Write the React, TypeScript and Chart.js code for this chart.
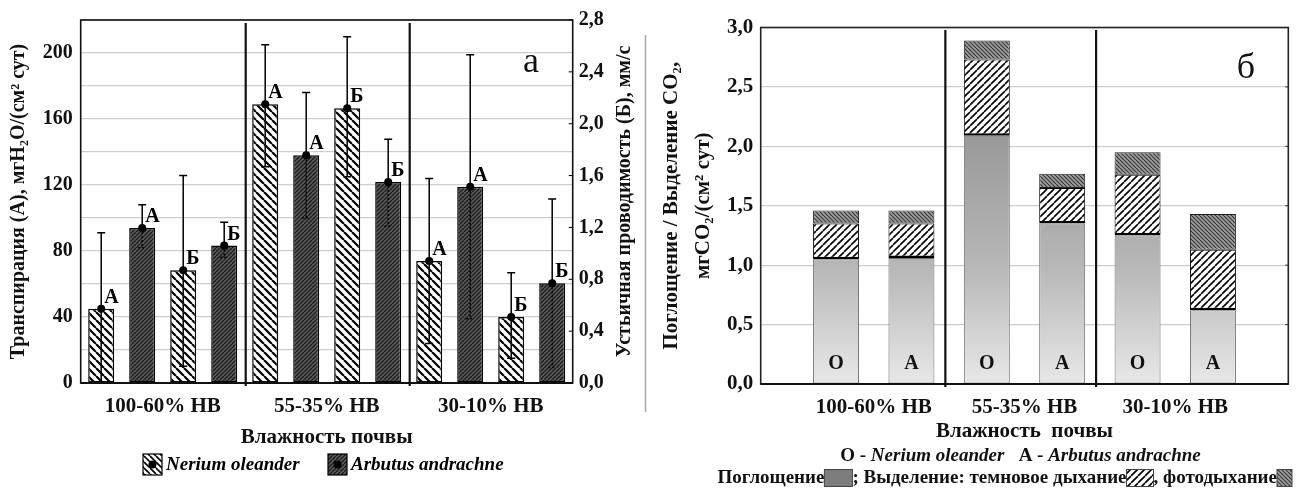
import React, { useEffect, useRef } from 'react';
import { Chart, registerables } from 'chart.js';

Chart.register(...registerables);

const FONT = "'Liberation Serif', 'Times New Roman', 'DejaVu Serif', serif";

// ---------- Panel а: transpiration (left axis) and stomatal conductance (right axis) ----------
const moistureLevels = ['100-60% НВ', '55-35% НВ', '30-10% НВ'];

const neriumTranspiration = [45, 169, 74];
const neriumTranspirationLow = [0, 131, 24];
const neriumTranspirationHigh = [91, 205, 124];

const arbutusTranspiration = [94, 138, 119];
const arbutusTranspirationLow = [82, 100, 39];
const arbutusTranspirationHigh = [108, 176, 199];

const neriumConductance = [0.87, 2.12, 0.51];
const neriumConductanceLow = [0.13, 1.59, 0.19];
const neriumConductanceHigh = [1.6, 2.67, 0.85];

const arbutusConductance = [1.06, 1.55, 0.77];
const arbutusConductanceLow = [0.97, 1.21, 0.12];
const arbutusConductanceHigh = [1.24, 1.88, 1.42];

const transpirationTickLabels = ['0', '40', '80', '120', '160', '200'];
const conductanceTickLabels = ['0,0', '0,4', '0,8', '1,2', '1,6', '2,0', '2,4', '2,8'];

// ---------- Panel б: CO2 uptake and release ----------
const speciesCodes = ['O', 'A', 'O', 'A', 'O', 'A'];
const uptake = [1.05, 1.06, 2.09, 1.35, 1.25, 0.62];
const darkRespiration = [0.3, 0.29, 0.64, 0.3, 0.51, 0.51];
const photorespiration = [0.11, 0.11, 0.16, 0.12, 0.19, 0.3];
const uptakeTickLabels = ['0,0', '0,5', '1,0', '1,5', '2,0', '2,5', '3,0'];

function makePattern(target: CanvasRenderingContext2D, bg: string, fg: string, size: number, lw: number, dir: 'fwd' | 'back') {
  const c = document.createElement('canvas');
  c.width = size;
  c.height = size;
  const g = c.getContext('2d')!;
  g.fillStyle = bg;
  g.fillRect(0, 0, size, size);
  g.strokeStyle = fg;
  g.lineWidth = lw;
  g.beginPath();
  for (let k = -1; k <= 1; k++) {
    if (dir === 'fwd') {
      g.moveTo(k * size, size);
      g.lineTo(k * size + size, 0);
    } else {
      g.moveTo(k * size, 0);
      g.lineTo(k * size + size, size);
    }
  }
  g.stroke();
  return target.createPattern(c, 'repeat')!;
}

export default function App() {
  const leftRef = useRef<HTMLCanvasElement>(null);
  const rightRef = useRef<HTMLCanvasElement>(null);

  useEffect(() => {
    const lc = leftRef.current!;
    const rc = rightRef.current!;
    const lctx = lc.getContext('2d')!;
    const rctx = rc.getContext('2d')!;

    const pNerium = makePattern(lctx, '#ffffff', '#000000', 8, 2.2, 'back');
    const pArbutus = makePattern(lctx, '#5c5c5c', '#1c1c1c', 4, 1.4, 'fwd');
    const pNeriumL = makePattern(lctx, '#ffffff', '#000000', 6, 1.6, 'back');
    const pDark = makePattern(rctx, '#ffffff', '#000000', 7, 1.6, 'fwd');
    const pPhoto = makePattern(rctx, '#9c9c9c', '#3a3a3a', 4, 1.2, 'back');

    const leftDecor = {
      id: 'leftDecor',
      afterDatasetsDraw(chart: any) {
        const ctx = chart.ctx as CanvasRenderingContext2D;
        chart.data.datasets.forEach((ds: any, d: number) => {
          const meta = chart.getDatasetMeta(d);
          const sc = chart.scales[ds.yAxisID];
          meta.data.forEach((bar: any, i: number) => {
            const x = bar.x;
            const yv = sc.getPixelForValue(ds.data[i]);
            const yl = sc.getPixelForValue(ds.errLow[i]);
            const yh = sc.getPixelForValue(ds.errHigh[i]);
            ctx.save();
            ctx.strokeStyle = '#000';
            ctx.lineWidth = 1.5;
            ctx.beginPath();
            ctx.moveTo(x, yh);
            ctx.lineTo(x, yv);
            ctx.moveTo(x - 4, yh);
            ctx.lineTo(x + 4, yh);
            ctx.stroke();
            if (ds.darkFill) ctx.setLineDash([2, 2]);
            ctx.beginPath();
            ctx.moveTo(x, yv);
            ctx.lineTo(x, yl);
            ctx.moveTo(x - 4, yl);
            ctx.lineTo(x + 4, yl);
            ctx.stroke();
            ctx.setLineDash([]);
            ctx.fillStyle = '#000';
            ctx.beginPath();
            ctx.arc(x, yv, 4, 0, Math.PI * 2);
            ctx.fill();
            ctx.font = `bold 20px ${FONT}`;
            ctx.textAlign = 'left';
            ctx.textBaseline = 'alphabetic';
            ctx.fillText(ds.letter, x + 3, yv - 6);
            ctx.restore();
          });
        });
      },
      afterDraw(chart: any) {
        const ctx = chart.ctx as CanvasRenderingContext2D;
        const a = chart.chartArea;
        const xs = chart.scales.x;
        const y1 = chart.scales.y1;
        ctx.save();
        ctx.strokeStyle = '#000';
        ctx.lineWidth = 1;
        y1.ticks.forEach((t: any) => {
          const yy = y1.getPixelForValue(t.value);
          ctx.beginPath();
          ctx.moveTo(a.right - 4, yy);
          ctx.lineTo(a.right, yy);
          ctx.stroke();
        });
        ctx.strokeStyle = '#111';
        ctx.lineWidth = 1.6;
        ctx.strokeRect(a.left, a.top, a.right - a.left, a.bottom - a.top);
        ctx.lineWidth = 2.2;
        ctx.beginPath();
        ctx.moveTo(a.left, a.bottom);
        ctx.lineTo(a.right, a.bottom);
        ctx.stroke();
        ctx.lineWidth = 2.2;
        for (let i = 0; i < moistureLevels.length - 1; i++) {
          const sx = (xs.getPixelForTick(i) + xs.getPixelForTick(i + 1)) / 2 + 1;
          ctx.beginPath();
          ctx.moveTo(sx, a.top + 3);
          ctx.lineTo(sx, a.bottom + 3);
          ctx.stroke();
        }
        ctx.fillStyle = '#111';
        ctx.font = `36px ${FONT}`;
        ctx.textAlign = 'center';
        ctx.textBaseline = 'alphabetic';
        ctx.fillText('а', 531, 72);
        ctx.save();
        ctx.translate(625, (a.top + a.bottom) / 2);
        ctx.rotate(-Math.PI / 2);
        ctx.font = `bold 20px ${FONT}`;
        ctx.textBaseline = 'middle';
        ctx.fillText('Устьичная проводимость (Б), мм/с', 0, 0);
        ctx.restore();
        ctx.strokeStyle = '#a8a8a8';
        ctx.lineWidth = 1.5;
        ctx.beginPath();
        ctx.moveTo(645.5, 35);
        ctx.lineTo(645.5, 412);
        ctx.stroke();
        const items = [
          { fill: pNeriumL, text: 'Nerium oleander', x: 143 },
          { fill: pArbutus, text: 'Arbutus andrachne', x: 328 },
        ];
        items.forEach((it) => {
          ctx.fillStyle = it.fill as any;
          ctx.fillRect(it.x, 454, 19, 21);
          ctx.strokeStyle = '#000';
          ctx.lineWidth = 1.2;
          ctx.strokeRect(it.x, 454, 19, 21);
          ctx.fillStyle = '#000';
          ctx.beginPath();
          ctx.arc(it.x + 9.5, 464.5, 4, 0, Math.PI * 2);
          ctx.fill();
          ctx.font = `italic bold 19px ${FONT}`;
          ctx.textAlign = 'left';
          ctx.textBaseline = 'middle';
          ctx.fillText(it.text, it.x + 23, 465);
        });
        ctx.restore();
      },
    };

    const left = new Chart(lc, {
      type: 'bar',
      data: {
        labels: moistureLevels,
        datasets: [
          { label: 'Nerium oleander', data: neriumTranspiration, errLow: neriumTranspirationLow, errHigh: neriumTranspirationHigh, letter: 'А', yAxisID: 'y', backgroundColor: pNerium, darkFill: false } as any,
          { label: 'Arbutus andrachne', data: arbutusTranspiration, errLow: arbutusTranspirationLow, errHigh: arbutusTranspirationHigh, letter: 'А', yAxisID: 'y', backgroundColor: pArbutus, darkFill: true } as any,
          { label: 'Nerium oleander', data: neriumConductance, errLow: neriumConductanceLow, errHigh: neriumConductanceHigh, letter: 'Б', yAxisID: 'y1', backgroundColor: pNerium, darkFill: false } as any,
          { label: 'Arbutus andrachne', data: arbutusConductance, errLow: arbutusConductanceLow, errHigh: arbutusConductanceHigh, letter: 'Б', yAxisID: 'y1', backgroundColor: pArbutus, darkFill: true } as any,
        ].map((d) => ({ ...d, borderColor: '#000', borderWidth: 1.5, borderSkipped: false, categoryPercentage: 1, barPercentage: 0.634 })),
      },
      options: {
        responsive: false,
        animation: false,
        devicePixelRatio: 1,
        layout: { padding: { top: 17.5, left: 0, right: 0, bottom: 0 } },
        plugins: { legend: { display: false }, tooltip: { enabled: false } },
        scales: {
          x: {
            grid: { display: false },
            border: { display: false },
            ticks: { color: '#111', font: { family: FONT, size: 21, weight: 'bold' }, padding: 3, maxRotation: 0 },
            title: { display: true, text: 'Влажность почвы', color: '#111', font: { family: FONT, size: 21, weight: 'bold' }, padding: { top: 0, bottom: 39 } },
            afterFit: (s: any) => { s.height = 106; },
          },
          y: {
            position: 'left',
            min: 0,
            max: 220,
            grid: { color: '#cdcdcd', lineWidth: 1.2, drawTicks: false },
            border: { display: false },
            ticks: {
              stepSize: 20,
              color: '#111',
              font: { family: FONT, size: 20, weight: 'bold' },
              padding: 8,
              callback: (v: any) => (v % 40 === 0 ? transpirationTickLabels[v / 40] ?? '' : ''),
            },
            title: { display: true, text: 'Транспирация (А), мгН₂О/(см² сут)', color: '#111', font: { family: FONT, size: 20, weight: 'bold' }, padding: { top: 7, bottom: 0 } },
            afterFit: (s: any) => { s.width = 80.7; },
          },
          y1: {
            position: 'right',
            min: 0,
            max: 2.8,
            grid: { drawOnChartArea: false, drawTicks: false },
            border: { display: false },
            ticks: {
              stepSize: 0.2,
              color: '#111',
              font: { family: FONT, size: 20, weight: 'bold' },
              padding: 6,
              callback: (v: any, i: number) => (i % 2 === 0 ? conductanceTickLabels[i / 2] ?? '' : ''),
            },
            afterFit: (s: any) => { s.width = 75.3; },
          },
        },
      } as any,
      plugins: [leftDecor],
    });

    const rightDecor = {
      id: 'rightDecor',
      afterDatasetsDraw(chart: any) {
        const ctx = chart.ctx as CanvasRenderingContext2D;
        const meta = chart.getDatasetMeta(0);
        ctx.save();
        ctx.fillStyle = '#111';
        ctx.font = `bold 20px ${FONT}`;
        ctx.textAlign = 'center';
        ctx.textBaseline = 'middle';
        meta.data.forEach((bar: any, i: number) => {
          ctx.fillText(speciesCodes[i], bar.x, 364);
        });
        ctx.restore();
      },
      afterDraw(chart: any) {
        const ctx = chart.ctx as CanvasRenderingContext2D;
        const a = chart.chartArea;
        const xs = chart.scales.x;
        const ys = chart.scales.y;
        ctx.save();
        ctx.strokeStyle = '#333';
        ctx.lineWidth = 1;
        ys.ticks.forEach((t: any) => {
          const yy = ys.getPixelForValue(t.value);
          ctx.beginPath();
          ctx.moveTo(a.right - 3, yy);
          ctx.lineTo(a.right, yy);
          ctx.stroke();
        });
        ctx.strokeStyle = '#222';
        ctx.lineWidth = 1.6;
        ctx.strokeRect(a.left, a.top, a.right - a.left, a.bottom - a.top);
        ctx.strokeStyle = '#111';
        ctx.lineWidth = 2.2;
        ctx.beginPath();
        ctx.moveTo(a.left, a.bottom);
        ctx.lineTo(a.right, a.bottom);
        ctx.stroke();
        [2.45, 4.45].forEach((v) => {
          const sx = xs.getPixelForValue(v);
          ctx.beginPath();
          ctx.moveTo(sx, a.top + 2.5);
          ctx.lineTo(sx, a.bottom + 3);
          ctx.stroke();
        });
        ctx.fillStyle = '#111';
        ctx.font = `36px ${FONT}`;
        ctx.textAlign = 'center';
        ctx.textBaseline = 'alphabetic';
        ctx.fillText('б', 598, 78);

        const parts = [
          { t: 'O - ', f: `bold 19px ${FONT}` },
          { t: 'Nerium oleander', f: `italic bold 19px ${FONT}` },
          { t: '   A - ', f: `bold 19px ${FONT}` },
          { t: 'Arbutus andrachne', f: `italic bold 19px ${FONT}` },
        ];
        let total = 0;
        parts.forEach((p) => { ctx.font = p.f; total += ctx.measureText(p.t).width; });
        let cx = 372.5 - total / 2;
        ctx.textAlign = 'left';
        ctx.textBaseline = 'middle';
        parts.forEach((p) => {
          ctx.font = p.f;
          ctx.fillText(p.t, cx, 456);
          cx += ctx.measureText(p.t).width;
        });

        const lf = `bold 19px ${FONT}`;
        ctx.font = lf;
        let lx = 69.5;
        const ly = 478;
        const seq: any[] = [
          { t: 'Поглощение' },
          { box: '#7d7d7d', w: 28 },
          { t: '; Выделение: темновое дыхание' },
          { box: pDark, w: 27 },
          { t: ', фотодыхание' },
          { box: pPhoto, w: 15 },
        ];
        seq.forEach((s) => {
          if (s.t) {
            ctx.fillStyle = '#111';
            ctx.font = lf;
            ctx.fillText(s.t, lx, ly);
            lx += ctx.measureText(s.t).width;
          } else {
            ctx.fillStyle = s.box;
            ctx.fillRect(lx, ly - 8.5, s.w, 17);
            ctx.strokeStyle = '#444';
            ctx.lineWidth = 1;
            ctx.strokeRect(lx, ly - 8.5, s.w, 17);
            lx += s.w;
          }
        });
        ctx.restore();
      },
    };

    const uptakeFill = (c: any) => {
      const chart = c.chart;
      const ys = chart.scales.y;
      if (!chart.chartArea || !ys) return '#c0c0c0';
      const g = chart.ctx.createLinearGradient(0, ys.getPixelForValue(0), 0, ys.getPixelForValue(2.1));
      g.addColorStop(0, '#e8e8e8');
      g.addColorStop(0.48, '#b6b6b6');
      g.addColorStop(1, '#999999');
      return g;
    };

    const right = new Chart(rc, {
      type: 'bar',
      data: {
        datasets: [
          { label: 'Поглощение', data: uptake.map((v, i) => ({ x: i + 1, y: v })), backgroundColor: uptakeFill, borderColor: '#6e6e6e', borderWidth: 1, borderSkipped: false },
          { label: 'темновое дыхание', data: darkRespiration.map((v, i) => ({ x: i + 1, y: v })), backgroundColor: pDark, borderColor: '#000', borderWidth: { top: 1, left: 1, right: 1, bottom: 2.5 }, borderSkipped: false },
          { label: 'фотодыхание', data: photorespiration.map((v, i) => ({ x: i + 1, y: v })), backgroundColor: pPhoto, borderColor: '#222', borderWidth: 1, borderSkipped: false },
        ].map((d) => ({ ...d, categoryPercentage: 1, barPercentage: 0.61 })) as any,
      },
      options: {
        responsive: false,
        animation: false,
        devicePixelRatio: 1,
        layout: { padding: { top: 27.5, left: 0, right: 7.7, bottom: 0 } },
        plugins: { legend: { display: false }, tooltip: { enabled: false } },
        scales: {
          x: {
            type: 'linear',
            min: 0,
            max: 7,
            offset: false,
            stacked: true,
            grid: { display: false, offset: false },
            border: { display: false },
            afterBuildTicks: (s: any) => { s.ticks = moistureLevels.map((_, i) => ({ value: 2 * i + 1.5 })); },
            ticks: { autoSkip: false, maxRotation: 0, color: '#111', font: { family: FONT, size: 21, weight: 'bold' }, padding: 3, callback: (_v: any, i: number) => moistureLevels[i] },
            title: { display: true, text: 'Влажность  почвы', color: '#111', font: { family: FONT, size: 21, weight: 'bold' }, padding: { top: 0, bottom: 45 } },
            afterFit: (s: any) => { s.height = 105; },
          },
          y: {
            min: 0,
            max: 3,
            stacked: true,
            grid: { color: '#cdcdcd', lineWidth: 1.2, drawTicks: false },
            border: { display: false },
            ticks: { stepSize: 0.5, color: '#111', font: { family: FONT, size: 21, weight: 'bold' }, padding: 7.5, callback: (_v: any, i: number) => uptakeTickLabels[i] },
            title: { display: true, text: ['Поглощение / Выделение CO₂,', 'мгCO₂/(см² сут)'], color: '#111', font: { family: FONT, size: 21, weight: 'bold', lineHeight: 1.48 }, padding: { top: 8.5, bottom: 0 } },
            afterFit: (s: any) => { s.width = 112.7; },
          },
        },
      } as any,
      plugins: [rightDecor],
    });

    return () => {
      left.destroy();
      right.destroy();
    };
  }, []);

  return (
    <div style={{ position: 'absolute', left: 0, top: 0, width: 1296, height: 489, background: '#fff' }}>
      <canvas ref={leftRef} width={648} height={489} style={{ position: 'absolute', left: 0, top: 0, width: 648, height: 489 }} />
      <canvas ref={rightRef} width={648} height={489} style={{ position: 'absolute', left: 648, top: 0, width: 648, height: 489 }} />
    </div>
  );
}
